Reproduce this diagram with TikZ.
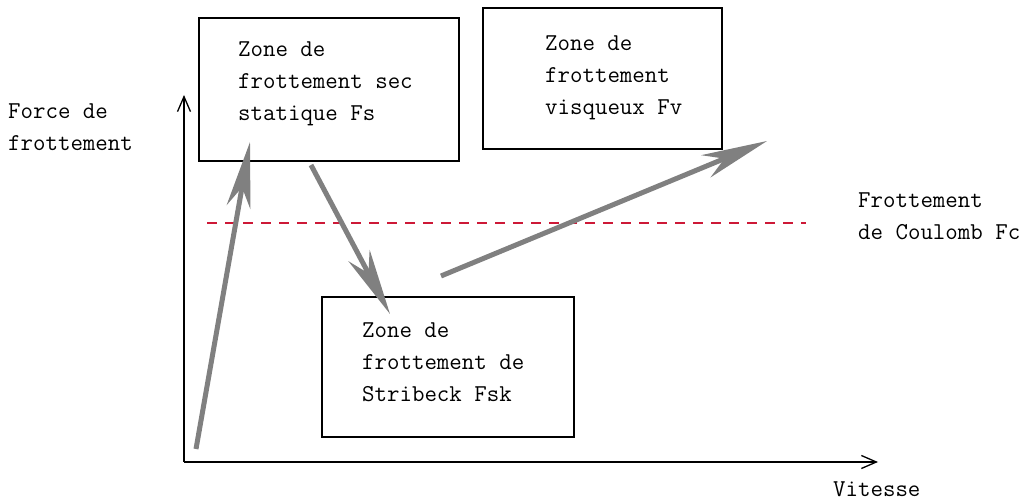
\documentclass[tikz,border=0pt]{standalone}
\usetikzlibrary{arrows.meta}
\definecolor{dashred}{RGB}{205,25,55}
\definecolor{arrgray}{RGB}{128,128,128}
\begin{document}
\begin{tikzpicture}[x=1pt,y=-1pt,
  every node/.style={font=\ttfamily\fontsize{24.2}{32}\selectfont, inner sep=0pt},
  zonebox/.style={draw, line width=1.5pt, minimum width=#1},
  lbl/.style={align=left, anchor=west},
  axisline/.style={line width=1.3pt, -{Straight Barb[length=15pt,width=13pt,line width=1.3pt]}},
  bigarrow/.style={arrgray, line width=5pt, -{Stealth[length=66pt,width=24pt,inset=20pt]}},
  coulomb/.style={dashred, line width=1.3pt, dash pattern=on 10pt off 8pt}]
\useasboundingbox (0,0) rectangle (1025,500);
% boxes
\node[zonebox=260pt, minimum height=143pt] (b1) at (329,89.5) {};
\node[zonebox=239pt, minimum height=141pt] (b2) at (602.5,78.5) {};
\node[zonebox=252pt, minimum height=140pt] (b3) at (448,367) {};
\node[lbl] (t1) at (238,84) {Zone de\\frottement sec\\statique Fs};
\node[lbl] (t2) at (545,78) {Zone de\\frottement\\visqueux Fv};
\node[lbl] (t3) at (362,362) {Zone de\\frottement de\\Stribeck Fsk};
% axes
\coordinate (o) at (184,462);
\coordinate (ytip) at (184,95);
\coordinate (xtip) at (878,462);
\draw[axisline] (o) -- (ytip);
\draw[axisline] (o) -- (xtip);
\node[lbl] (ylab) at (8,127) {Force de\\frottement};
\node[anchor=west] (xlab) at (833,489) {Vitesse};
% Coulomb line
\coordinate (c1) at (207,223);
\coordinate (c2) at (806,223);
\draw[coulomb] (c1) -- (c2);
\node[lbl] (clab) at (858,216) {Frottement\\de Coulomb Fc};
% gray arrows
\coordinate (a1s) at (196,449);
\coordinate (a1e) at (250,142);
\coordinate (a2s) at (311,165);
\coordinate (a2e) at (390,314);
\coordinate (a3s) at (441,276);
\coordinate (a3e) at (767,141);
\draw[bigarrow] (a1s) -- (a1e);
\draw[bigarrow] (a2s) -- (a2e);
\draw[bigarrow] (a3s) -- (a3e);
\end{tikzpicture}
\end{document}
